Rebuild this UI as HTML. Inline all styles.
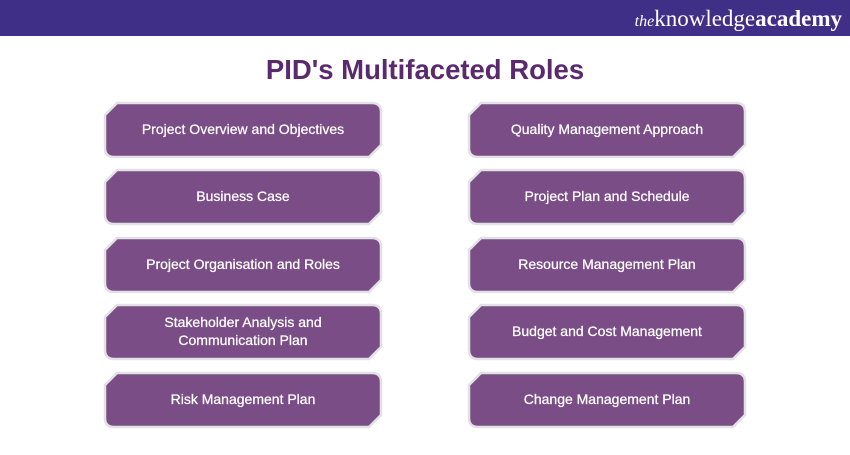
<!DOCTYPE html>
<html><head><meta charset="utf-8"><style>
body{margin:0;width:850px;height:450px;background:#fff;overflow:hidden;font-family:"Liberation Sans",sans-serif}
</style></head><body>
<svg width="850" height="450" xmlns="http://www.w3.org/2000/svg">
<rect x="0" y="0" width="850" height="36" fill="#3f2f87"/>
<text x="842" y="26" text-anchor="end" font-family="Liberation Serif,serif" font-size="23" fill="#fff"><tspan font-style="italic" font-size="16">the</tspan>knowledge<tspan font-weight="bold">academy</tspan></text>
<text x="425" y="79" text-anchor="middle" font-family="Liberation Sans,sans-serif" font-weight="bold" font-size="27.5" fill="#5b2a6e">PID's Multifaceted Roles</text>
<g id="boxes" stroke="#e2e2e6" stroke-width="2.5" fill="#7a4d86"></g>
<g font-family="Liberation Sans,sans-serif" font-size="14" fill="#fff" stroke="#fff" stroke-width="0.25" text-anchor="middle" id="labels"></g>
</svg>
<script>
var ys=[103,170,238,305,373],xs=[105,469],w=276,h=54;
var L=[["Project Overview and Objectives","Business Case","Project Organisation and Roles",["Stakeholder Analysis and","Communication Plan"],"Risk Management Plan"],
["Quality Management Approach","Project Plan and Schedule","Resource Management Plan","Budget and Cost Management","Change Management Plan"]];
var g=document.getElementById('boxes'),t=document.getElementById('labels'),ns="http://www.w3.org/2000/svg";
for(var c=0;c<2;c++)for(var r=0;r<5;r++){var x0=xs[c],y0=ys[r],x1=x0+w,y1=y0+h,k=12,q=9;
var p=document.createElementNS(ns,'path');
p.setAttribute('d','M'+(x0+k)+','+y0+' L'+(x1-q)+','+y0+' Q'+x1+','+y0+' '+x1+','+(y0+q)+' L'+x1+','+(y1-k)+' L'+(x1-k)+','+y1+' L'+(x0+q)+','+y1+' Q'+x0+','+y1+' '+x0+','+(y1-q)+' L'+x0+','+(y0+k)+' Z');
g.appendChild(p);
var s=L[c][r],cx=x0+w/2;
if(typeof s=="string"){var e=document.createElementNS(ns,'text');e.setAttribute('x',cx);e.setAttribute('y',y0+h/2+4);e.textContent=s;t.appendChild(e);}
else{for(var i=0;i<2;i++){var e=document.createElementNS(ns,'text');e.setAttribute('x',cx);e.setAttribute('y',y0+h/2-5+i*18);e.textContent=s[i];t.appendChild(e);}}}
</script>
</body></html>
